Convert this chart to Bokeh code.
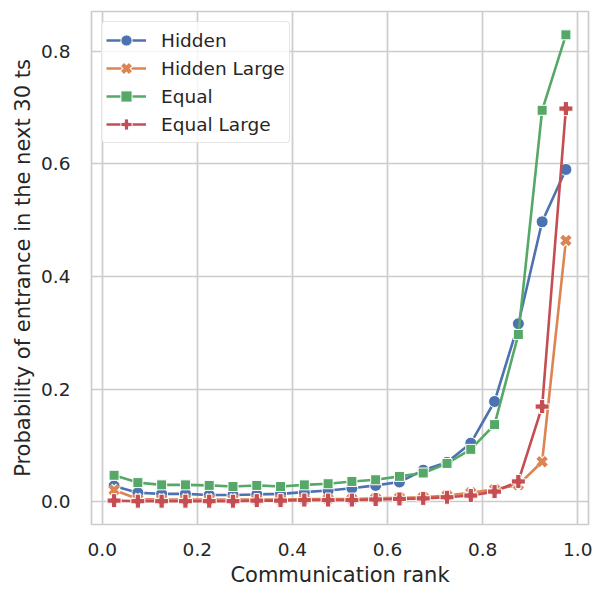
from bokeh.embed import file_html
from bokeh.models import FixedTicker, Legend, PrintfTickFormatter, Range1d
from bokeh.plotting import figure
from bokeh.resources import INLINE

# Communication rank bins (bin centres)
rank = [0.025, 0.075, 0.125, 0.175, 0.225, 0.275, 0.325, 0.375, 0.425, 0.475,
        0.525, 0.575, 0.625, 0.675, 0.725, 0.775, 0.825, 0.875, 0.925, 0.975]

# Probability of entrance in the next 30 time steps
hidden = [0.028, 0.016, 0.014, 0.014, 0.012, 0.012, 0.013, 0.014, 0.017, 0.020,
          0.024, 0.029, 0.035, 0.056, 0.070, 0.104, 0.178, 0.316, 0.497, 0.590]
hidden_large = [0.021, 0.005, 0.004, 0.004, 0.004, 0.004, 0.004, 0.004, 0.005, 0.005,
                0.005, 0.006, 0.007, 0.008, 0.011, 0.016, 0.022, 0.030, 0.071, 0.464]
equal = [0.047, 0.034, 0.030, 0.030, 0.029, 0.027, 0.029, 0.027, 0.030, 0.032,
         0.036, 0.039, 0.045, 0.051, 0.068, 0.093, 0.137, 0.297, 0.695, 0.829]
equal_large = [0.002, 0.001, 0.001, 0.001, 0.001, 0.001, 0.002, 0.002, 0.003, 0.003,
               0.003, 0.004, 0.005, 0.006, 0.008, 0.011, 0.018, 0.036, 0.169, 0.698]

x_ticks = [0.0, 0.2, 0.4, 0.6, 0.8, 1.0]
y_ticks = [0.0, 0.2, 0.4, 0.6, 0.8]

FONT = "DejaVu Sans"
TEXT = "#262626"
GRID = "#cccccc"


def padded(values, frac=0.05):
    lo, hi = min(values), max(values)
    pad = (hi - lo) * frac
    return lo - pad, hi + pad


x0, x1 = padded(rank)
y0, y1 = padded(hidden + hidden_large + equal + equal_large)

p = figure(width=594, height=590, output_backend="svg", toolbar_location=None,
           x_range=Range1d(x0, x1), y_range=Range1d(y0, y1),
           min_border_left=91, min_border_right=6, min_border_top=11,
           min_border_bottom=66)

p.background_fill_color = "white"
p.border_fill_color = "white"
p.outline_line_color = GRID
p.outline_line_width = 1.7

for ax in (p.xaxis, p.yaxis):
    ax.axis_line_color = None
    ax.major_tick_line_color = None
    ax.minor_tick_line_color = None
    ax.major_label_text_font = FONT
    ax.major_label_text_font_size = "18.5px"
    ax.major_label_text_color = TEXT
    ax.axis_label_text_font = FONT
    ax.axis_label_text_font_size = "21px"
    ax.axis_label_text_font_style = "normal"
    ax.axis_label_text_color = TEXT
    ax.formatter = PrintfTickFormatter(format="%.1f")

p.xaxis.ticker = FixedTicker(ticks=x_ticks)
p.yaxis.ticker = FixedTicker(ticks=y_ticks)
p.xaxis.axis_label = "Communication rank"
p.yaxis.axis_label = "Probability of entrance in the next 30 ts"
p.xaxis.major_label_standoff = 12
p.yaxis.major_label_standoff = 15
p.xaxis.axis_label_standoff = 4
p.yaxis.axis_label_standoff = 3

p.xgrid.grid_line_color = GRID
p.ygrid.grid_line_color = GRID
p.xgrid.grid_line_width = 1.7
p.ygrid.grid_line_width = 1.7

items = []


def add_series(name, vals, color, marker, size):
    ln = p.line(rank, vals, line_color=color, line_width=2.6)
    if marker == "x":
        # thick diagonal cross: a white halo under the coloured strokes
        halo = p.scatter(rank, vals, marker="x", size=size, line_color="white",
                         line_width=6.5)
        sc = p.scatter(rank, vals, marker="x", size=size, line_color=color,
                       line_width=4.2)
        renderers = [ln, halo, sc]
    else:
        sc = p.scatter(rank, vals, marker=marker, size=size, fill_color=color,
                       line_color="white", line_width=1)
        renderers = [ln, sc]
    items.append((name, renderers))


add_series("Hidden", hidden, "#4C72B0", "circle", 12)
add_series("Hidden Large", hidden_large, "#DD8452", "x", 12)
add_series("Equal", equal, "#55A868", "square", 10)
add_series("Equal Large", equal_large, "#C44E52", "plus", 14)

legend = Legend(items=items, location="top_left")
legend.margin = 10
legend.padding = 4
legend.spacing = 0
legend.glyph_width = 40
legend.glyph_height = 28
legend.label_height = 22
legend.label_standoff = 15
legend.label_text_font = FONT
legend.label_text_font_size = "18.5px"
legend.label_text_color = TEXT
legend.border_line_color = GRID
legend.border_line_width = 1.3
legend.border_radius = 4
legend.background_fill_color = "white"
legend.background_fill_alpha = 0.8
p.add_layout(legend, "center")

open("out.html", "w").write(file_html(p, INLINE))
